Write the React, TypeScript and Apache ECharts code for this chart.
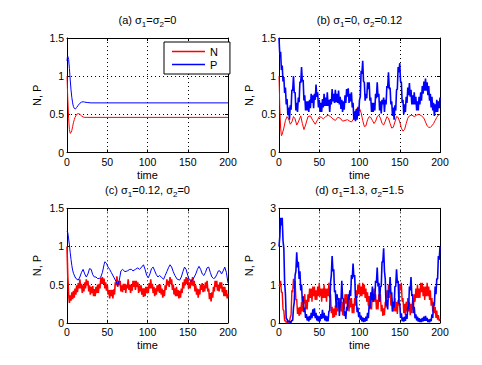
import React, { useEffect, useRef } from "react";
import * as echarts from "echarts";

// ---------- data ----------
const timeTicks = [0, 50, 100, 150, 200];
const panelTitles = [
  ["(a) σ", "1", "=σ", "2", "=0"],
  ["(b) σ", "1", "=0, σ", "2", "=0.12"],
  ["(c) σ", "1", "=0.12, σ", "2", "=0"],
  ["(d) σ", "1", "=1.3, σ", "2", "=1.5"],
];
const yMax = [1.5, 1.5, 1.5, 3];
const yStep = [0.5, 0.5, 0.5, 1];

// (a) deterministic
const aN = [[0,1.0],[0.5,0.85],[1,0.7],[2,0.45],[3,0.3],[4,0.25],[5,0.26],[6,0.29],[7,0.34],[8,0.39],[9,0.43],[10,0.46],[12,0.5],[14,0.51],[16,0.5],[18,0.48],[20,0.465],[22,0.46],[25,0.46],[200,0.46]];
const aP = [[0,1.2],[0.5,1.25],[1,1.26],[2,1.22],[3,1.1],[4,0.95],[5,0.82],[6,0.72],[7,0.65],[8,0.6],[9,0.58],[10,0.57],[11,0.575],[12,0.59],[14,0.62],[16,0.645],[18,0.66],[20,0.665],[22,0.66],[25,0.655],[30,0.65],[200,0.65]];

// (b) sigma1=0, sigma2=0.12
const bN = [[0,1.0],[1,0.6],[2,0.32],[3,0.22],[4,0.24],[6,0.32],[8,0.42],[10,0.47],[12,0.44],[14,0.37],[16,0.4],[18,0.47],[20,0.44],[22,0.36],[24,0.4],[27,0.48],[29,0.38],[31,0.3],[33,0.36],[36,0.47],[39,0.48],[42,0.42],[45,0.37],[48,0.43],[50,0.47],[53,0.46],[55,0.44],[58,0.47],[61,0.49],[64,0.47],[67,0.44],[70,0.42],[73,0.46],[76,0.45],[79,0.41],[82,0.42],[85,0.43],[88,0.41],[90,0.4],[92,0.43],[94,0.5],[96,0.56],[98,0.6],[100,0.58],[102,0.52],[104,0.42],[106,0.34],[108,0.35],[110,0.43],[112,0.47],[114,0.46],[116,0.42],[118,0.38],[120,0.41],[122,0.47],[124,0.49],[126,0.45],[128,0.38],[130,0.36],[132,0.41],[134,0.47],[136,0.45],[138,0.38],[140,0.32],[142,0.33],[144,0.4],[146,0.47],[148,0.46],[150,0.4],[152,0.32],[154,0.28],[156,0.3],[158,0.38],[160,0.45],[162,0.48],[165,0.49],[168,0.47],[171,0.49],[174,0.5],[177,0.48],[180,0.45],[182,0.4],[184,0.35],[186,0.33],[188,0.33],[190,0.35],[192,0.38],[194,0.42],[196,0.46],[198,0.49],[200,0.5]];
const bP = [
  1.50,1.28,1.32,1.08,1.14,0.93,0.99,0.78,0.85,0.63,
  0.70,0.49,0.59,0.43,0.62,0.56,0.82,0.81,1.00,0.78,
  0.79,0.55,0.65,0.53,0.72,0.66,0.93,0.91,1.12,0.93,
  0.95,0.68,0.75,0.55,0.67,0.55,0.67,0.53,0.69,0.58,
  0.77,0.65,0.75,0.58,0.77,0.69,0.89,0.73,0.79,0.59,
  0.69,0.53,0.65,0.53,0.70,0.59,0.77,0.61,0.72,0.61,
  0.79,0.61,0.69,0.53,0.70,0.63,0.83,0.67,0.77,0.65,
  0.82,0.66,0.77,0.65,0.81,0.63,0.73,0.57,0.69,0.53,
  0.67,0.56,0.75,0.65,0.83,0.73,0.84,0.65,0.77,0.67,
  0.79,0.59,0.65,0.43,0.54,0.41,0.57,0.43,0.59,0.48,
  0.69,0.73,1.07,1.03,1.20,0.93,0.92,0.68,0.77,0.71,
  0.92,0.83,0.92,0.68,0.72,0.53,0.65,0.53,0.65,0.55,
  0.77,0.71,0.92,0.73,0.77,0.55,0.67,0.51,0.69,0.63,
  0.72,0.53,0.69,0.63,0.87,0.85,1.05,0.83,0.85,0.63,
  0.67,0.48,0.59,0.43,0.62,0.55,0.82,0.83,1.12,1.05,
  1.17,0.93,0.92,0.65,0.69,0.50,0.63,0.53,0.73,0.65,
  0.85,0.75,0.91,0.73,0.82,0.63,0.75,0.63,0.79,0.63,
  0.73,0.55,0.67,0.55,0.73,0.63,0.79,0.68,0.87,0.77,
  0.93,0.81,0.97,0.81,0.92,0.75,0.87,0.68,0.77,0.59,
  0.73,0.55,0.65,0.48,0.63,0.53,0.69,0.53,0.67,0.58,
  0.72,
];

// (c) sigma1=0.12, sigma2=0
const cN = [
  1.00,0.60,0.38,0.26,0.36,0.29,0.40,0.31,0.42,0.33,
  0.45,0.37,0.49,0.40,0.52,0.45,0.57,0.45,0.51,0.39,
  0.49,0.41,0.53,0.45,0.57,0.49,0.55,0.41,0.49,0.37,
  0.47,0.39,0.48,0.35,0.44,0.35,0.47,0.39,0.50,0.39,
  0.51,0.45,0.59,0.51,0.60,0.51,0.58,0.45,0.53,0.42,
  0.50,0.37,0.43,0.32,0.43,0.35,0.43,0.32,0.44,0.37,
  0.53,0.49,0.61,0.47,0.55,0.49,0.55,0.41,0.49,0.40,
  0.51,0.43,0.51,0.39,0.50,0.45,0.57,0.43,0.50,0.39,
  0.50,0.42,0.55,0.47,0.55,0.43,0.55,0.47,0.53,0.39,
  0.49,0.41,0.49,0.37,0.45,0.34,0.45,0.35,0.47,0.39,
  0.47,0.39,0.52,0.45,0.57,0.45,0.51,0.39,0.47,0.35,
  0.45,0.37,0.49,0.41,0.50,0.39,0.50,0.37,0.45,0.33,
  0.43,0.35,0.49,0.43,0.57,0.49,0.55,0.47,0.60,0.51,
  0.57,0.43,0.50,0.37,0.45,0.35,0.47,0.35,0.43,0.32,
  0.42,0.33,0.45,0.39,0.53,0.45,0.57,0.49,0.60,0.51,
  0.59,0.45,0.53,0.45,0.57,0.49,0.60,0.48,0.55,0.41,
  0.49,0.37,0.45,0.33,0.44,0.37,0.50,0.43,0.52,0.40,
  0.49,0.41,0.53,0.45,0.55,0.41,0.45,0.31,0.39,0.28,
  0.40,0.33,0.47,0.41,0.55,0.47,0.55,0.42,0.50,0.41,
  0.53,0.45,0.53,0.40,0.47,0.35,0.47,0.35,0.43,0.32,
  0.38,
];
const cP = [[0,1.2],[1,1.18],[2,1.1],[3,1.02],[4,0.92],[5,0.83],[6,0.75],[7,0.69],[8,0.65],[10,0.6],[12,0.57],[14,0.56],[16,0.6],[18,0.66],[20,0.7],[22,0.64],[24,0.6],[26,0.64],[28,0.71],[30,0.7],[32,0.63],[34,0.6],[36,0.6],[38,0.58],[40,0.58],[42,0.6],[44,0.66],[46,0.76],[47,0.8],[49,0.78],[51,0.73],[53,0.7],[55,0.66],[58,0.6],[61,0.54],[63,0.49],[65,0.56],[67,0.68],[69,0.7],[72,0.67],[75,0.68],[78,0.7],[80,0.7],[82,0.68],[85,0.7],[88,0.72],[90,0.7],[92,0.72],[95,0.76],[97,0.7],[99,0.62],[101,0.59],[103,0.64],[105,0.71],[107,0.73],[109,0.68],[111,0.63],[113,0.6],[115,0.62],[117,0.6],[120,0.57],[122,0.62],[124,0.67],[126,0.72],[128,0.76],[130,0.73],[132,0.67],[134,0.62],[137,0.57],[140,0.56],[142,0.6],[144,0.67],[146,0.73],[148,0.7],[150,0.62],[152,0.56],[154,0.54],[156,0.56],[158,0.6],[160,0.64],[162,0.7],[164,0.74],[166,0.7],[168,0.64],[170,0.62],[172,0.66],[174,0.72],[176,0.73],[178,0.66],[180,0.6],[182,0.58],[184,0.59],[186,0.63],[188,0.68],[190,0.68],[192,0.64],[194,0.68],[196,0.73],[198,0.66],[200,0.52]];

// (d) sigma1=1.3, sigma2=1.5
const dN = [
  1.00,0.95,1.10,0.80,0.80,0.35,0.32,0.05,0.06,0.01,
  0.03,0.01,0.05,0.02,0.15,0.20,0.85,0.80,1.15,0.90,
  1.10,0.60,0.62,0.23,0.40,0.18,0.42,0.22,0.55,0.30,
  0.70,0.50,0.75,0.35,0.60,0.35,0.75,0.55,0.90,0.65,
  0.90,0.55,0.95,0.70,0.95,0.60,0.85,0.60,0.95,0.70,
  1.05,0.70,0.90,0.55,0.90,0.65,1.00,0.65,0.90,0.55,
  0.90,0.70,1.05,0.65,0.75,0.25,0.42,0.13,0.37,0.15,
  0.45,0.20,0.55,0.30,0.65,0.40,0.65,0.30,0.55,0.20,
  0.55,0.35,0.75,0.50,0.75,0.40,0.65,0.30,0.65,0.40,
  0.65,0.25,0.50,0.25,0.65,0.45,0.85,0.65,1.00,0.75,
  1.05,0.70,0.95,0.70,1.05,0.75,1.00,0.65,0.90,0.55,
  0.80,0.45,0.70,0.35,0.60,0.35,0.75,0.55,0.90,0.55,
  0.75,0.35,0.60,0.35,0.75,0.55,0.75,0.30,0.47,0.18,
  0.38,0.20,0.55,0.40,0.85,0.65,1.00,0.65,0.85,0.45,
  0.65,0.30,0.55,0.30,0.65,0.30,0.55,0.23,0.60,0.45,
  1.00,0.85,1.05,0.55,0.65,0.25,0.50,0.20,0.55,0.30,
  0.65,0.30,0.55,0.20,0.50,0.25,0.60,0.35,0.75,0.55,
  0.90,0.65,1.00,0.65,0.90,0.65,1.05,0.80,1.05,0.70,
  0.95,0.60,0.95,0.70,1.05,0.70,0.95,0.60,0.85,0.45,
  0.65,0.30,0.55,0.25,0.42,0.13,0.32,0.08,0.20,0.05,
  0.10,
];
const dP = [
  2.00,2.25,2.75,2.55,2.75,2.15,1.95,1.05,0.75,0.10,
  0.10,0.02,0.05,0.01,0.03,0.01,0.07,0.06,0.40,0.55,
  1.25,1.35,1.85,1.45,1.60,1.15,1.35,0.85,1.00,0.55,
  0.68,0.28,0.40,0.13,0.23,0.06,0.16,0.04,0.18,0.08,
  0.26,0.12,0.35,0.18,0.38,0.12,0.26,0.06,0.19,0.04,
  0.17,0.04,0.23,0.10,0.34,0.12,0.26,0.06,0.19,0.04,
  0.17,0.04,0.30,0.32,1.05,1.25,1.75,1.35,1.40,0.80,
  0.85,0.40,0.75,0.60,0.65,0.18,0.52,0.55,1.10,0.65,
  0.62,0.18,0.30,0.10,0.42,0.32,0.75,0.60,0.85,0.70,
  1.25,1.15,1.55,1.20,1.25,0.65,0.70,0.28,0.40,0.15,
  0.28,0.08,0.19,0.04,0.14,0.02,0.12,0.03,0.16,0.05,
  0.26,0.12,0.47,0.38,0.80,0.60,0.95,0.55,0.75,0.60,
  1.10,1.05,1.45,0.95,1.05,0.55,0.95,0.95,1.60,1.60,
  1.95,1.35,1.15,0.45,0.60,0.35,0.85,0.80,1.20,0.75,
  0.80,0.30,0.55,0.40,0.95,0.95,1.40,1.05,1.10,0.50,
  0.52,0.13,0.25,0.04,0.14,0.03,0.16,0.05,0.23,0.10,
  0.42,0.35,0.95,0.85,1.20,0.70,0.75,0.25,0.42,0.12,
  0.22,0.06,0.16,0.03,0.12,0.02,0.10,0.02,0.13,0.04,
  0.16,0.05,0.18,0.05,0.13,0.02,0.09,0.01,0.10,0.04,
  0.22,0.13,0.52,0.45,0.95,0.75,1.15,1.15,1.75,1.65,
  2.00,
];

// ---------- layout ----------
const FONT = "'Liberation Sans', Arial, Helvetica, sans-serif";
const RED = "#ff0000";
const BLUE = "#0000ff";
const grids = [
  { left: 67, top: 38, width: 161, height: 114.5 },
  { left: 279, top: 38, width: 161, height: 114.5 },
  { left: 67, top: 208.3, width: 161, height: 114.5 },
  { left: 279, top: 208.3, width: 161, height: 114.5 },
];

const withIndex = (arr: number[]) => arr.map((v, i) => [i, v]);

export default function App() {
  const ref = useRef<HTMLDivElement>(null);
  useEffect(() => {
    if (!ref.current) return;
    const chart = echarts.init(ref.current, undefined, { renderer: "svg" });
    const dotted = { type: [1, 3] as any, color: "#000", width: 1 };
    const xAxes: any[] = [];
    const yAxes: any[] = [];
    grids.forEach((_, i) => {
      xAxes.push({
        type: "value", gridIndex: i, min: 0, max: 200, interval: 50, position: "bottom",
        axisLine: { show: true, onZero: false, lineStyle: { color: "#000", width: 1 } },
        axisTick: { show: true, inside: true, length: 3, lineStyle: { color: "#000" } },
        axisLabel: { color: "#000", fontSize: 10.5, fontFamily: FONT, margin: 4 },
        splitLine: { show: true, lineStyle: dotted },
      });
      yAxes.push({
        type: "value", gridIndex: i, min: 0, max: yMax[i], interval: yStep[i], position: "left",
        axisLine: { show: true, onZero: false, lineStyle: { color: "#000", width: 1 } },
        axisTick: { show: true, inside: true, length: 3, lineStyle: { color: "#000" } },
        axisLabel: { color: "#000", fontSize: 10.5, fontFamily: FONT, margin: 3 },
        splitLine: { show: true, lineStyle: dotted },
      });
    });
    grids.forEach((_, i) => {
      xAxes.push({
        type: "value", gridIndex: i, min: 0, max: 200, interval: 50, position: "top",
        axisLine: { show: true, onZero: false, lineStyle: { color: "#000", width: 1 } },
        axisTick: { show: true, inside: true, length: 3, lineStyle: { color: "#000" } },
        axisLabel: { show: false }, splitLine: { show: false },
      });
      yAxes.push({
        type: "value", gridIndex: i, min: 0, max: yMax[i], interval: yStep[i], position: "right",
        axisLine: { show: true, onZero: false, lineStyle: { color: "#000", width: 1 } },
        axisTick: { show: true, inside: true, length: 3, lineStyle: { color: "#000" } },
        axisLabel: { show: false }, splitLine: { show: false },
      });
    });

    const mk = (name: string, data: any[], idx: number, color: string, width = 1) => ({
      type: "line", name, data, xAxisIndex: idx, yAxisIndex: idx,
      showSymbol: false, symbol: "none", smooth: false,
      lineStyle: { color, width }, itemStyle: { color },
      clip: true,
    });

    const series = [
      mk("N", aN, 0, RED), mk("P", aP, 0, BLUE),
      mk("N", bN, 1, RED), mk("P", withIndex(bP), 1, BLUE, 1.6),
      mk("N", withIndex(cN), 2, RED, 1.6), mk("P", cP, 2, BLUE),
      mk("N", withIndex(dN), 3, RED, 1.4), mk("P", withIndex(dP), 3, BLUE, 1.6),
    ];

    const graphics: any[] = [];
    grids.forEach((g, i) => {
      const cx = g.left + g.width / 2;
      const t = panelTitles[i];
      graphics.push({
        type: "text", x: cx, y: g.top - 18,
        style: {
          text: `{n|${t[0]}}{s|${t[1]}}{n|${t[2]}}{s|${t[3]}}{n|${t[4]}}`,
          rich: {
            n: { fontSize: 11, fontFamily: FONT, lineHeight: 16, fill: "#000", color: "#000" },
            s: { fontSize: 8, fontFamily: FONT, lineHeight: 8, verticalAlign: "bottom", fill: "#000", color: "#000" },
          },
          fill: "#000",
          align: "center", verticalAlign: "middle",
          textAlign: "center", textVerticalAlign: "middle",
        },
      });
      graphics.push({
        type: "text", x: g.left - 30, y: g.top + g.height / 2, rotation: Math.PI / 2,
        style: {
          text: "N, P", font: `11px ${FONT}`, fill: "#000",
          align: "center", verticalAlign: "middle",
          textAlign: "center", textVerticalAlign: "middle",
        },
      });
      graphics.push({
        type: "text", x: cx, y: g.top + g.height + 22,
        style: {
          text: "time", font: `11px ${FONT}`, fill: "#000",
          align: "center", verticalAlign: "middle",
          textAlign: "center", textVerticalAlign: "middle",
        },
      });
    });

    chart.setOption({
      animation: false,
      backgroundColor: "#fff",
      grid: grids.map((g) => ({ ...g, containLabel: false })),
      xAxis: xAxes,
      yAxis: yAxes,
      legend: {
        data: ["N", "P"], left: 164, top: 42, orient: "vertical",
        icon: "rect", itemWidth: 33, itemHeight: 1.5, itemGap: 2,
        padding: [4, 12, 4, 8], backgroundColor: "#fff",
        borderColor: "#000", borderWidth: 1, borderRadius: 0,
        selectedMode: false,
        textStyle: { fontSize: 11, color: "#000", fontFamily: FONT },
      },
      series,
      graphic: graphics,
    });
    return () => chart.dispose();
  }, []);
  return (
    <div
      ref={ref}
      style={{ position: "fixed", left: 0, top: 0, width: 482, height: 365, background: "#fff" }}
    />
  );
}
